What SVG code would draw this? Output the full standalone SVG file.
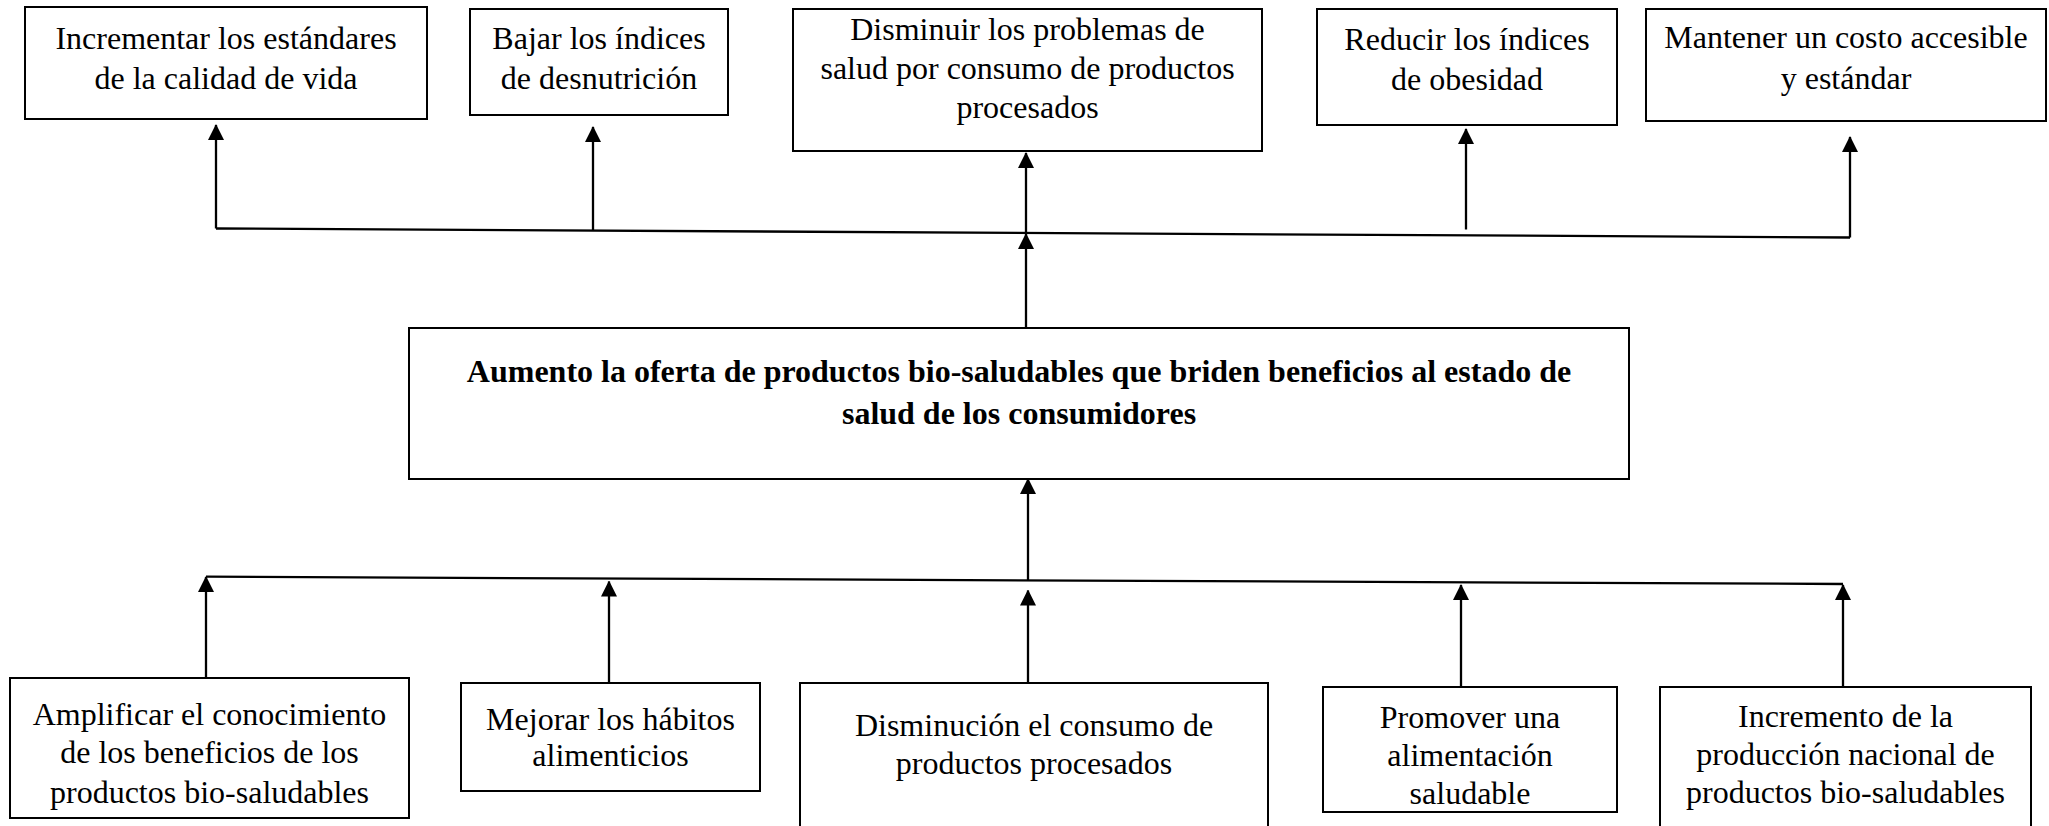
<svg xmlns="http://www.w3.org/2000/svg" width="2049" height="826" viewBox="0 0 2049 826">
<style>
.box{fill:#fff;stroke:#000;stroke-width:2}
.t{font-family:"Liberation Serif","Times New Roman",serif;font-size:32px;fill:#000;text-anchor:middle}
.b{font-weight:bold}
.c{fill:none;stroke:#000;stroke-width:2.3}
.a{fill:none;stroke:#000;stroke-width:2.3;marker-end:url(#ah)}
</style>
<defs>
<marker id="ah" markerUnits="userSpaceOnUse" markerWidth="16" markerHeight="17" refX="15" refY="8" orient="auto" viewBox="0 0 16 16">
<path d="M0,0 L16,8 L0,16 z" fill="#000"/>
</marker>
</defs>
<rect width="2049" height="826" fill="#fff"/>
<g id="connectors">
<line class="c" x1="216" y1="228.5" x2="1850" y2="237.5"/>
<line class="a" x1="216" y1="228.5" x2="216" y2="125"/>
<line class="a" x1="593" y1="230" x2="593" y2="127"/>
<line class="a" x1="1026" y1="233" x2="1026" y2="153"/>
<line class="a" x1="1466" y1="229.5" x2="1466" y2="129"/>
<line class="a" x1="1850" y1="237.5" x2="1850" y2="137"/>
<line class="a" x1="1026" y1="328" x2="1026" y2="234"/>
<line class="a" x1="1028" y1="580" x2="1028" y2="479"/>
<line class="c" x1="206" y1="576.7" x2="1843" y2="584"/>
<line class="a" x1="206" y1="678" x2="206" y2="577"/>
<line class="a" x1="609" y1="683" x2="609" y2="581.5"/>
<line class="a" x1="1028" y1="683" x2="1028" y2="590.5"/>
<line class="a" x1="1461" y1="687" x2="1461" y2="585"/>
<line class="a" x1="1843" y1="687" x2="1843" y2="585"/>
</g>
<g id="n1"><rect class="box" x="25" y="7" width="402" height="112"/>
<text class="t" x="226" y="49">Incrementar los estándares</text>
<text class="t" x="226" y="88.5">de la calidad de vida</text></g>
<g id="n2"><rect class="box" x="470" y="9" width="258" height="106"/>
<text class="t" x="599" y="49">Bajar los índices</text>
<text class="t" x="599" y="88.5">de desnutrición</text></g>
<g id="n3"><rect class="box" x="793" y="9" width="469" height="142"/>
<text class="t" x="1027.5" y="39.5">Disminuir los problemas de</text>
<text class="t" x="1027.5" y="78.5">salud por consumo de productos</text>
<text class="t" x="1027.5" y="117.5">procesados</text></g>
<g id="n4"><rect class="box" x="1317" y="9" width="300" height="116"/>
<text class="t" x="1467" y="50">Reducir los índices</text>
<text class="t" x="1467" y="89.5">de obesidad</text></g>
<g id="n5"><rect class="box" x="1646" y="9" width="400" height="112"/>
<text class="t" x="1846" y="48">Mantener un costo accesible</text>
<text class="t" x="1846" y="89">y estándar</text></g>
<g id="center"><rect class="box" x="409" y="328" width="1220" height="151"/>
<text class="t b" x="1019" y="381.5">Aumento la oferta de productos bio-saludables que briden beneficios al estado de</text>
<text class="t b" x="1019" y="424">salud de los consumidores</text></g>
<g id="m1"><rect class="box" x="10" y="678" width="399" height="140"/>
<text class="t" x="209.5" y="724.5">Amplificar el conocimiento</text>
<text class="t" x="209.5" y="763">de los beneficios de los</text>
<text class="t" x="209.5" y="802.5">productos bio-saludables</text></g>
<g id="m2"><rect class="box" x="461" y="683" width="299" height="108"/>
<text class="t" x="610.5" y="729.5">Mejorar los hábitos</text>
<text class="t" x="610.5" y="766">alimenticios</text></g>
<g id="m3"><rect class="box" x="800" y="683" width="468" height="160"/>
<text class="t" x="1034" y="736">Disminución el consumo de</text>
<text class="t" x="1034" y="774">productos procesados</text></g>
<g id="m4"><rect class="box" x="1323" y="687" width="294" height="125"/>
<text class="t" x="1470" y="727.5">Promover una</text>
<text class="t" x="1470" y="766">alimentación</text>
<text class="t" x="1470" y="804">saludable</text></g>
<g id="m5"><rect class="box" x="1660" y="687" width="371" height="160"/>
<text class="t" x="1845.5" y="727">Incremento de la</text>
<text class="t" x="1845.5" y="764.5">producción nacional de</text>
<text class="t" x="1845.5" y="803">productos bio-saludables</text></g>
</svg>
